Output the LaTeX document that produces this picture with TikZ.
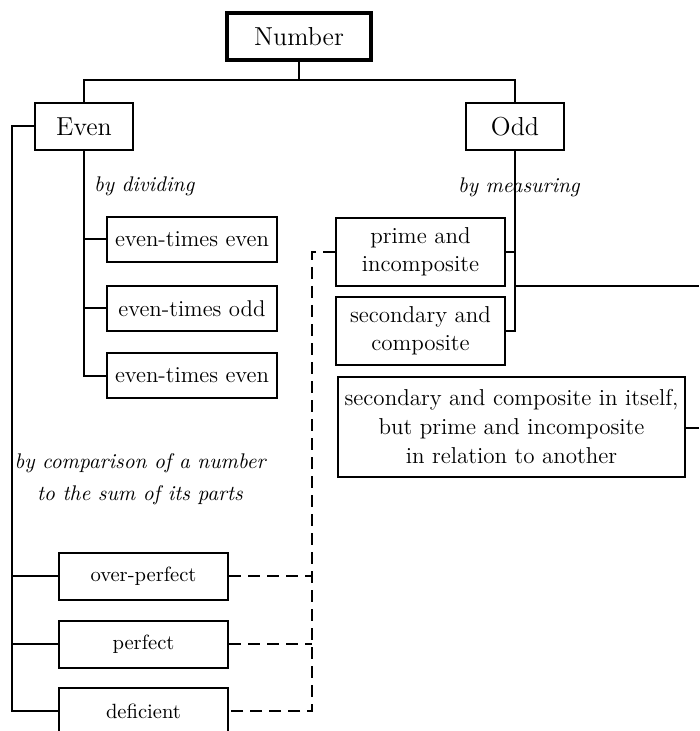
\documentclass[tikz,border=0pt]{standalone}
\usepackage{tikz}

\begin{document}
\begin{tikzpicture}[x=0.5pt, y=-0.5pt, line width=1pt,
    every node/.style={inner sep=0pt, align=center},
    rootbox/.style={draw, line width=1.9pt, minimum width=72pt, minimum height=23.5pt, font=\fontsize{13}{15}\selectfont},
    headbox/.style={draw, minimum width=49pt, minimum height=23.5pt, font=\fontsize{13}{15}\selectfont},
    evenbox/.style={draw, minimum width=85pt, minimum height=22.5pt, font=\fontsize{11.4}{14}\selectfont},
    oddbox/.style={draw, minimum width=84.5pt, minimum height=34pt, font=\fontsize{11.5}{14}\selectfont},
    partbox/.style={draw, minimum width=84.5pt, minimum height=23.5pt, font=\fontsize{10.3}{12}\selectfont},
    howlabel/.style={font=\fontsize{10.6}{16}\selectfont\itshape},
    dashline/.style={dash pattern=on 6pt off 3.5pt}]
    \useasboundingbox (0,0) rectangle (699,731);
    \clip (0,0) rectangle (699,731);

    % top of the tree
    \node[rootbox] (num) at (299,36.5) {Number};
    \node[headbox] (even) at (84,126.5) {Even};
    \node[headbox] (odd) at (515,126.5) {Odd};
    \coordinate (top) at (299,80);
    \draw (num.south) -- (top);
    \draw (even.north) -- (even.north |- top) -- (odd.north |- top) -- (odd.north);

    % even, by dividing
    \node[howlabel, anchor=base west] (divlbl) at (93,192) {by dividing};
    \foreach \i/\y/\w in {1/239.5/even-times even, 2/308.5/even-times odd, 3/375.5/even-times even} {
        \node[evenbox] (ete\i) at (192,\y) {\w};
    }
    \draw (even.south) |- (ete3.west);
    \foreach \i in {1,2} {
        \draw (ete\i.west) -- (even.south |- ete\i.west);
    }

    % odd, by measuring
    \node[howlabel, anchor=base west] (measlbl) at (457,193) {by measuring};
    \node[oddbox] (prime) at (420.5,252) {prime and\\incomposite};
    \node[oddbox] (second) at (420.5,331) {secondary and\\composite};
    \node[draw, minimum width=173.5pt, minimum height=50pt, font=\fontsize{11.5}{14.5}\selectfont] (mixed) at (511.5,427)
        {secondary and composite in itself,\\but prime and incomposite\\in relation to another};
    \draw (odd.south) |- (second.east);
    \draw (prime.east) -- (odd.south |- prime.east);
    \coordinate (rightA) at (699,286);
    \coordinate (rightB) at (699,428);
    \draw (odd.south |- rightA) -- (rightA);
    \draw (mixed.east |- rightB) -- (rightB);

    % even, by comparison to its parts
    \node[howlabel, anchor=base] (complbl) at (140,500) {by comparison of a number\\to the sum of its parts};
    \foreach \n/\y/\w in {over/576/over-perfect, perf/644/perfect, defi/711/deficient} {
        \node[partbox] (\n) at (143.5,\y) {\w};
    }
    \coordinate (lx) at (12,0);
    \draw (even.west) -| (lx |- defi.west) -- (defi.west);
    \foreach \n in {over,perf} {
        \draw (\n.west) -- (lx |- \n.west);
    }

    % dashed link to the odd side
    \coordinate (dx) at (312,0);
    \draw[dashline] (prime.west) -| (dx |- defi.east) -- (defi.east);
    \foreach \n in {over,perf} {
        \draw[dashline] (\n.east) -- (dx |- \n.east);
    }
\end{tikzpicture}
\end{document}
